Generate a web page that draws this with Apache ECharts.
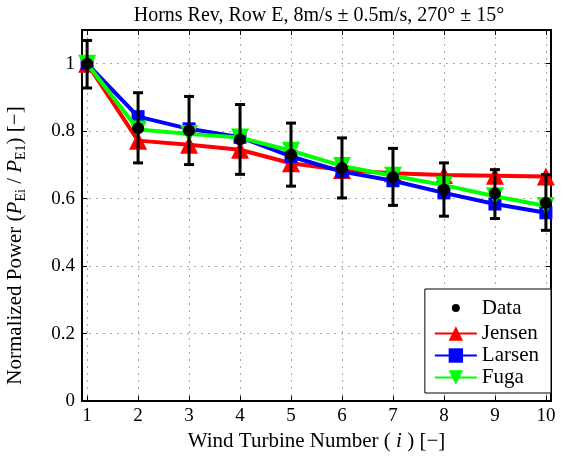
<!DOCTYPE html>
<html>
<head>
<meta charset="utf-8">
<script src="https://cdn.jsdelivr.net/npm/echarts@6/dist/echarts.min.js"></script>
<style>html,body{margin:0;padding:0;background:#fff;}#chart{width:567px;height:456px;}</style>
</head>
<body>
<div id="chart"></div>
<script>
const turbines = [1, 2, 3, 4, 5, 6, 7, 8, 9, 10];
const dataMean = [1.0, 0.809, 0.802, 0.775, 0.730, 0.691, 0.664, 0.627, 0.615, 0.587];
const dataLow  = [0.928, 0.706, 0.701, 0.672, 0.637, 0.602, 0.580, 0.548, 0.541, 0.506];
const dataHigh = [1.069, 0.914, 0.903, 0.879, 0.824, 0.780, 0.749, 0.706, 0.686, 0.671];
const jensen = [1.0, 0.772, 0.760, 0.745, 0.705, 0.685, 0.675, 0.670, 0.668, 0.666];
const larsen = [1.0, 0.843, 0.807, 0.782, 0.725, 0.680, 0.653, 0.617, 0.584, 0.558];
const fuga   = [1.0, 0.805, 0.792, 0.781, 0.742, 0.697, 0.668, 0.640, 0.607, 0.578];
const xTicks = [1, 2, 3, 4, 5, 6, 7, 8, 9, 10];
const yTicks = [0, 0.2, 0.4, 0.6, 0.8, 1];

const FONT = 'Liberation Serif';
const pair = (xs, ys) => xs.map((x, i) => [x, ys[i]]);

const chart = echarts.init(document.getElementById('chart'), null, {renderer: 'canvas'});

const gridLine = {show: true, lineStyle: {color: '#a8a8a8', width: 1, type: [2, 5]}};
const baseX = {
  type: 'value', min: 0.9, max: 10.1,
  axisLine: {show: true, onZero: false, lineStyle: {color: '#000', width: 2}},
  axisTick: {show: true, inside: true, length: 5, customValues: xTicks, lineStyle: {color: '#000', width: 1}},
  axisLabel: {show: true, customValues: xTicks, color: '#000', fontFamily: FONT, fontSize: 19, margin: 6},
  splitLine: gridLine
};
const baseY = {
  type: 'value', min: 0, max: 1.1,
  axisLine: {show: true, onZero: false, lineStyle: {color: '#000', width: 2}},
  axisTick: {show: true, inside: true, length: 5, customValues: yTicks, lineStyle: {color: '#000', width: 1}},
  axisLabel: {show: true, customValues: yTicks, color: '#000', fontFamily: FONT, fontSize: 19, margin: 7,
    formatter: v => String(Math.round(v * 10) / 10)},
  splitLine: gridLine
};

const option = {
  backgroundColor: '#fff',
  animation: false,
  title: {
    text: 'Horns Rev, Row E, 8m/s \u00b1 0.5m/s, 270\u00b0 \u00b1 15\u00b0',
    left: 314, textAlign: 'center', top: 1,
    textStyle: {fontFamily: FONT, fontSize: 20, fontWeight: 'normal', color: '#000'}
  },
  grid: {left: 82, right: 16, top: 30, bottom: 55, show: false, outerBoundsMode: 'none', containLabel: false},
  legend: {
    orient: 'vertical', right: 16, bottom: 63,
    backgroundColor: '#fff', borderColor: '#000', borderWidth: 1,
    padding: [5, 12, 5, 9], itemGap: 1, itemWidth: 42, itemHeight: 18,
    textStyle: {fontFamily: FONT, fontSize: 21, lineHeight: 20, color: '#000'},
    data: [
      {name: 'Data', icon: 'circle', itemStyle: {color: '#000', borderColor: '#fff', borderWidth: 10, opacity: 1}},
      'Jensen', 'Larsen', 'Fuga'
    ]
  },
  xAxis: [
    Object.assign({}, baseX, {
      position: 'bottom',
      name: 'Wind Turbine Number ( {i|i} ) [\u2212]',
      nameLocation: 'middle', nameGap: 29,
      nameTextStyle: {fontFamily: FONT, fontSize: 21, color: '#000',
        rich: {i: {fontFamily: FONT, fontSize: 21, fontStyle: 'italic', color: '#000'}}}
    }),
    Object.assign({}, baseX, {position: 'top', axisLabel: {show: false}, splitLine: {show: false}})
  ],
  yAxis: [
    Object.assign({}, baseY, {
      position: 'left',
      name: 'Normalized Power ({i|P}{s|Ei} / {i|P}{s|E1}) [\u2212]',
      nameLocation: 'middle', nameGap: 54, nameRotate: 90,
      nameTextStyle: {fontFamily: FONT, fontSize: 21, color: '#000', lineHeight: 26,
        padding: [0, 60, 0, 0],
        rich: {
          i: {fontFamily: FONT, fontSize: 21, fontStyle: 'italic', color: '#000', lineHeight: 26},
          s: {fontFamily: FONT, fontSize: 14, color: '#000', lineHeight: 13, verticalAlign: 'bottom'}
        }}
    }),
    Object.assign({}, baseY, {position: 'right', axisLabel: {show: false}, splitLine: {show: false}})
  ],
  series: [
    {
      name: 'Jensen', type: 'line', data: pair(turbines, jensen),
      lineStyle: {color: '#ff0000', width: 4}, itemStyle: {color: '#ff0000'},
      symbol: 'triangle', symbolSize: 18, z: 2
    },
    {
      name: 'Larsen', type: 'line', data: pair(turbines, larsen),
      lineStyle: {color: '#0000ff', width: 4}, itemStyle: {color: '#0000ff'},
      symbol: 'rect', symbolSize: 13, z: 3
    },
    {
      name: 'Fuga', type: 'line', data: pair(turbines, fuga),
      lineStyle: {color: '#00ff00', width: 4}, itemStyle: {color: '#00ff00'},
      symbol: 'triangle', symbolRotate: 180, symbolSize: 18, z: 4
    },
    {
      name: 'DataErr', type: 'custom', z: 5,
      data: turbines.map((x, i) => [x, dataLow[i], dataHigh[i]]),
      renderItem: function (params, api) {
        const x = api.value(0);
        const p1 = api.coord([x, api.value(1)]);
        const p2 = api.coord([x, api.value(2)]);
        const w = 5;
        const st = {stroke: '#000', lineWidth: 3};
        return {type: 'group', children: [
          {type: 'line', shape: {x1: p1[0], y1: p1[1], x2: p2[0], y2: p2[1]}, style: st},
          {type: 'line', shape: {x1: p1[0] - w, y1: p1[1], x2: p1[0] + w, y2: p1[1]}, style: st},
          {type: 'line', shape: {x1: p2[0] - w, y1: p2[1], x2: p2[0] + w, y2: p2[1]}, style: st}
        ]};
      }
    },
    {
      name: 'Data', type: 'scatter', data: pair(turbines, dataMean),
      symbol: 'circle', symbolSize: 12, itemStyle: {color: '#000', opacity: 1}, z: 6
    }
  ]
};
chart.setOption(option);
</script>
</body>
</html>
